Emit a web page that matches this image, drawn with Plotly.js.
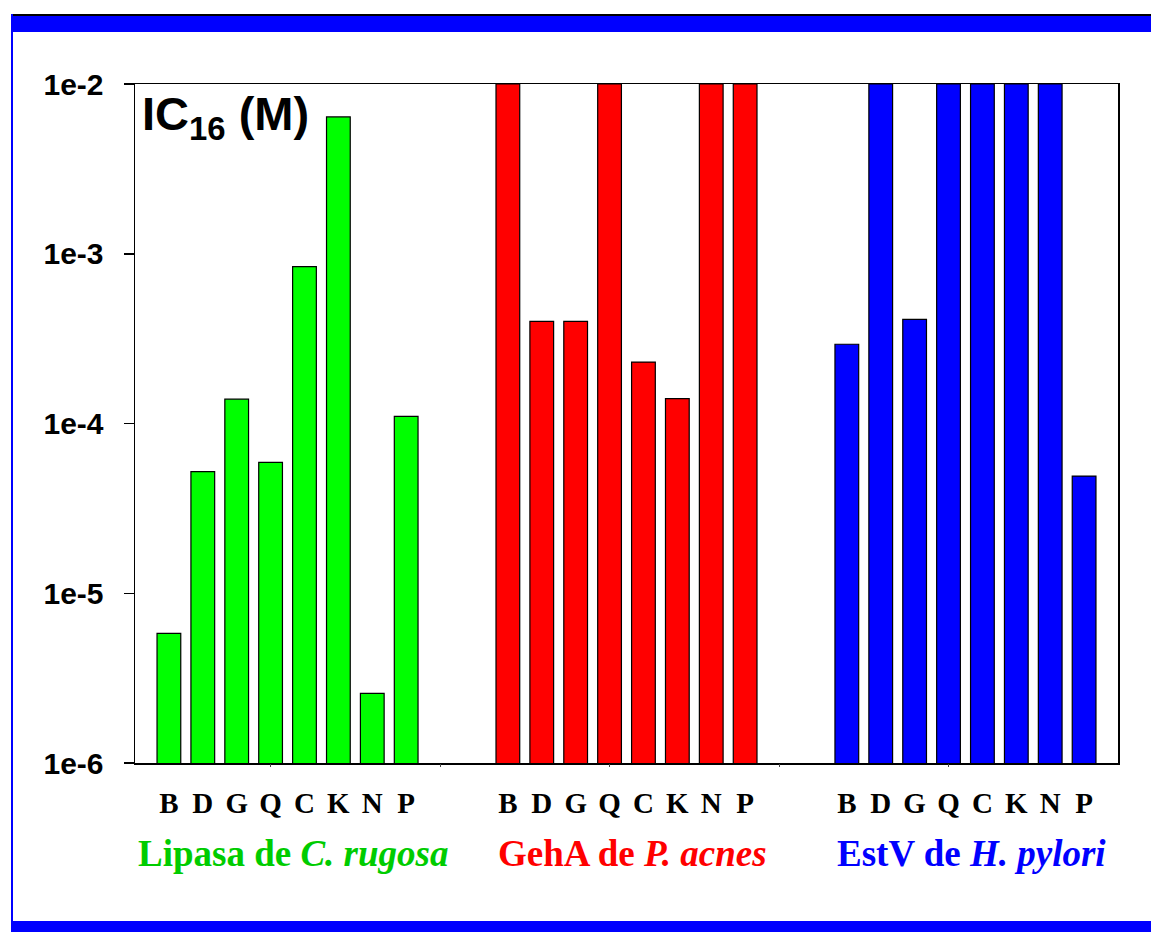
<!DOCTYPE html>
<html>
<head>
<meta charset="utf-8">
<script src="https://cdn.plot.ly/plotly-3.0.1.min.js"></script>
<style>
  html, body { margin: 0; padding: 0; background: #ffffff; }
  #wrap { position: relative; width: 1151px; height: 932px; overflow: hidden; background: #fff; }
  #chart { position: absolute; left: 0; top: 0; width: 1151px; height: 932px; }
  .frame-top { position: absolute; left: 11px; top: 14px; width: 1140px; height: 18px; background: #0000ff; border-top: 2px solid #000; box-sizing: border-box; }
  .frame-left { position: absolute; left: 11px; top: 14px; width: 2px; height: 918px; background: #0000ff; }
  .frame-bottom { position: absolute; left: 11px; top: 921px; width: 1140px; height: 11px; background: #0000ff; }
</style>
</head>
<body>
<div id="wrap">
  <div id="chart"></div>
  <div class="frame-top"></div>
  <div class="frame-left"></div>
  <div class="frame-bottom"></div>
</div>
<script>
// ---- data ----
const categories = ['B', 'D', 'G', 'Q', 'C', 'K', 'N', 'P'];
const lipasaCrugosa = [5.8e-6, 5.2e-5, 1.39e-4, 5.9e-5, 8.4e-4, 6.4e-3, 2.57e-6, 1.1e-4];
const gehAPacnes   = [1e-2, 4.0e-4, 4.0e-4, 1e-2, 2.3e-4, 1.4e-4, 1e-2, 1e-2];
const estVHpylori  = [2.93e-4, 1e-2, 4.11e-4, 1e-2, 1e-2, 1e-2, 1e-2, 4.9e-5];
const groupNames = ['Lipasa de <i>C. rugosa</i>', 'GehA de <i>P. acnes</i>', 'EstV de <i>H. pylori</i>'];
const groupColors = ['#00ff00', '#ff0000', '#0000ff'];
const labelColors = ['#00cc00', '#ff0000', '#0000ff'];
const yTickVals = [1e-6, 1e-5, 1e-4, 1e-3, 1e-2];
const yTickText = ['1e-6', '1e-5', '1e-4', '1e-3', '1e-2'];
const yTitle = 'IC<sub>16</sub> (M)';

const series = [lipasaCrugosa, gehAPacnes, estVHpylori];
const groupStart = 2, groupStep = 10;

const traces = series.map((vals, g) => ({
  type: 'bar',
  x: categories.map((c, i) => groupStart + g * groupStep + i),
  y: vals,
  width: 0.7,
  marker: { color: groupColors[g], line: { color: '#000000', width: 1.2 } },
  hoverinfo: 'x+y',
  showlegend: false
}));

// all category tick positions / labels
const catPos = [], catText = [];
series.forEach((vals, g) => categories.forEach((c, i) => {
  catPos.push(groupStart + g * groupStep + i);
  catText.push(c);
}));

// invisible trace to activate the overlay axis with small ticks
traces.push({ type: 'scatter', x: [1, 30], y: [1e-6, 1e-6], xaxis: 'x2', mode: 'none', hoverinfo: 'skip', showlegend: false });

const annotations = groupNames.map((name, g) => ({
  text: name,
  xref: 'x', yref: 'paper',
  x: groupStart + g * groupStep + (categories.length - 1) / 2,
  y: 0, yanchor: 'top', yshift: -68, xshift: 6,
  showarrow: false,
  font: { family: 'Liberation Serif, Times New Roman, serif', size: 37, color: labelColors[g], weight: 'bold' }
}));
annotations.push({
  text: yTitle,
  xref: 'paper', yref: 'paper', x: 0, y: 1,
  xanchor: 'left', yanchor: 'top', xshift: 5, yshift: -1,
  showarrow: false,
  font: { family: 'Liberation Sans, Arial, sans-serif', size: 47, color: '#000', weight: 'bold' }
});

const layout = {
  width: 1151, height: 932,
  margin: { l: 135, r: 33, t: 84, b: 169 },
  paper_bgcolor: 'rgba(0,0,0,0)',
  plot_bgcolor: '#ffffff',
  bargap: 0.3,
  xaxis: {
    range: [1, 30],
    tickmode: 'array', tickvals: catPos, ticktext: catText,
    ticks: '', showgrid: false, zeroline: false,
    showline: true, linecolor: '#000', linewidth: 1.5, mirror: true,
    tickfont: { family: 'Liberation Serif, Times New Roman, serif', size: 29, color: '#000', weight: 'bold' },
    ticklabelstandoff: 14
  },
  xaxis2: {
    range: [1, 30], overlaying: 'x', anchor: 'y', side: 'bottom',
    tickmode: 'array', tickvals: [5, 10, 15, 20, 25],
    ticks: 'outside', ticklen: 3, tickwidth: 1, tickcolor: '#444',
    showticklabels: false, showgrid: false, zeroline: false, showline: false
  },
  yaxis: {
    type: 'log', range: [-6, -2],
    tickmode: 'array', tickvals: yTickVals, ticktext: yTickText,
    ticks: 'outside', ticklen: 10, tickwidth: 1.5, tickcolor: '#000',
    showgrid: false, zeroline: false,
    showline: true, linecolor: '#000', linewidth: 1.5, mirror: true,
    tickfont: { family: 'Liberation Sans, Arial, sans-serif', size: 30, color: '#000', weight: 'bold' },
    ticklabelstandoff: 14
  },
  annotations: annotations
};

Plotly.newPlot('chart', traces, layout, { displayModeBar: false, staticPlot: true });
</script>
</body>
</html>
